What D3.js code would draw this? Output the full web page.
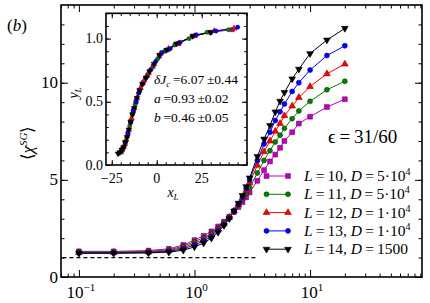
<!DOCTYPE html>
<html><head><meta charset="utf-8">
<script src="https://cdn.jsdelivr.net/npm/d3@7"></script>
<style>
body{margin:0;background:#fff}
svg{display:block}
</style>
</head><body>
<svg id="c" width="430" height="303"></svg>
<script>
// ---- data ----
const xValues = [0.1,0.2,0.4,0.6,0.8,1.0,1.2,1.4,1.6,1.8,2.0,2.2,2.4,2.6,2.8,3.0,3.5,4.0,4.5,5.0,5.5,6.0,7.0,8.0,10,14,20];
const chiL10 = [1.32,1.32,1.36,1.45,1.65,1.90,2.12,2.35,2.60,2.85,3.10,3.35,3.60,3.85,4.10,4.35,4.95,5.50,5.95,6.30,6.65,7.00,7.45,7.90,8.25,8.75,9.15];
const chiL11 = [1.29,1.29,1.32,1.40,1.58,1.82,2.02,2.25,2.52,2.80,3.10,3.40,3.70,4.00,4.30,4.60,5.35,6.00,6.50,6.95,7.30,7.65,8.15,8.55,9.04,9.64,10.07];
const chiL12 = [1.26,1.26,1.29,1.36,1.52,1.73,1.93,2.17,2.45,2.75,3.07,3.40,3.72,4.07,4.45,4.85,5.75,6.45,7.00,7.50,7.90,8.30,8.80,9.24,9.80,10.46,10.96];
const chiL13 = [1.24,1.24,1.26,1.32,1.45,1.65,1.85,2.08,2.38,2.70,3.03,3.40,3.75,4.12,4.55,5.00,6.00,6.85,7.45,8.05,8.50,8.90,9.55,10.00,10.65,11.40,11.90];
const chiL14 = [1.22,1.22,1.24,1.28,1.38,1.55,1.75,2.00,2.30,2.65,3.00,3.40,3.80,4.20,4.65,5.10,6.20,7.10,7.80,8.50,9.05,9.50,10.20,10.70,11.50,12.20,12.80];

const insetX10 = [-19,-17.5,-16,-14.5,-13,-11.5,-9.5,-7.5,-5,-2,1.5,6,12,20,30,42];
const insetY10 = [0.12,0.17,0.25,0.34,0.43,0.50,0.59,0.65,0.71,0.78,0.86,0.91,0.96,1.02,1.05,1.07];
const insetX11 = [-19.5,-18,-16.5,-15,-13.5,-12,-10,-8,-5.5,-3,0.5,4.5,10,18,28,40];
const insetY11 = [0.11,0.15,0.22,0.31,0.40,0.48,0.57,0.64,0.70,0.76,0.84,0.90,0.95,1.00,1.05,1.07];
const insetX12 = [-20,-18.5,-17,-15.5,-14,-12.5,-11,-9,-7,-4.5,-1.5,2,6.5,12,21,32,43];
const insetY12 = [0.10,0.14,0.20,0.28,0.37,0.45,0.53,0.61,0.67,0.73,0.80,0.88,0.92,0.96,1.02,1.06,1.08];
const insetX13 = [-20.5,-19,-17.5,-16,-14.5,-13,-11.5,-10,-8,-6,-3.5,-0.5,3,7.5,13,22,33,45];
const insetY13 = [0.10,0.13,0.18,0.25,0.34,0.43,0.50,0.57,0.64,0.69,0.75,0.82,0.89,0.92,0.97,1.03,1.06,1.09];
const insetX14 = [-21.5,-20.5,-19.5,-18.5,-17.5,-16.5,-15.5,-14.5,-13.5,-12.5,-11,-9.5,-8,-6,-4,-1.5,1.5,5.5,11,20,30];
const insetY14 = [0.09,0.10,0.12,0.14,0.18,0.22,0.28,0.34,0.40,0.45,0.53,0.59,0.64,0.69,0.74,0.80,0.87,0.91,0.96,1.02,1.05];

const seriesL = ["10","11","12","13","14"];
const seriesD = ["5·10","5·10","1·10","1·10","1500"];
const seriesDsup = ["4","4","4","4",""];
const seriesColor = ["#c000c0","#008000","#ff0000","#0000ff","#000000"];
const seriesEdge = ["#700070","#004000","#900000","#000090","#000000"];
const seriesMarker = ["square","circle","triangleUp","circle","triangleDown"];

const mainXTicks = [0.1,1,10];
const mainXTickExp = ["−1","0","1"];
const mainYTicks = [0,5,10];
const insetXTicks = [-25,0,25];
const insetYTicks = [0,0.5,1.0];
const fitText = [["δ","J","c","\u2009=6.07\u2009±0.44"],["","a","","\u2009=0.93\u2009±0.02"],["","b","","\u2009=0.46\u2009±0.05"]];

// ---- drawing ----
const FONT = "Liberation Serif";
const svg = d3.select("#c");
const chiAll = [chiL10,chiL11,chiL12,chiL13,chiL14];
const insXAll = [insetX10,insetX11,insetX12,insetX13,insetX14];
const insYAll = [insetY10,insetY11,insetY12,insetY13,insetY14];

const x = d3.scaleLog().domain([0.07,93]).range([61,422]);
const y = d3.scaleLinear().domain([0,14]).range([277,5]);

function sym(type, size){
  if(type==="square") return d3.symbol().type(d3.symbolSquare).size(size)();
  if(type==="circle") return d3.symbol().type(d3.symbolCircle).size(size*0.85)();
  return d3.symbol().type(d3.symbolTriangle).size(size*0.85)();
}
function rot(type){ return type==="triangleDown" ? " rotate(180)" : ""; }
function txt(sel){ return sel.append("text").attr("font-family",FONT).attr("fill","#000"); }

// dashed y=1 line
svg.append("line").attr("x1",x(0.072)).attr("x2",x(3.5)).attr("y1",y(1)).attr("y2",y(1))
  .attr("stroke","#000").attr("stroke-width",1.2).attr("stroke-dasharray","4,3");

// main series
const line = d3.line().x((d,i)=>x(xValues[i])).y(d=>y(d));
chiAll.forEach((arr,k)=>{
  svg.append("path").attr("d",line(arr)).attr("fill","none").attr("stroke",seriesColor[k]).attr("stroke-width",1);
});
const MS = 23;
chiAll.forEach((arr,k)=>{
  svg.append("g").selectAll("path").data(arr).join("path")
    .attr("d",sym(seriesMarker[k],MS))
    .attr("transform",(d,i)=>`translate(${x(xValues[i])},${y(d)})${rot(seriesMarker[k])}`)
    .attr("fill",seriesColor[k]).attr("stroke",seriesEdge[k]).attr("stroke-width",0.6);
});

// main axes ticks
function minorLog(){
  const out=[];
  for(let e=-2;e<=2;e++) for(let m=2;m<=9;m++){const v=m*Math.pow(10,e); if(v>=0.07&&v<=93) out.push(v);}
  return out;
}
const axG = svg.append("g");
axG.append("g").attr("transform","translate(0,277)").call(d3.axisBottom(x).tickValues(mainXTicks).tickSize(-7).tickFormat(""));
axG.append("g").attr("transform","translate(0,277)").call(d3.axisBottom(x).tickValues(minorLog()).tickSize(-3.5).tickFormat(""));
axG.append("g").attr("transform","translate(0,5)").call(d3.axisTop(x).tickValues(mainXTicks).tickSize(-7).tickFormat(""));
axG.append("g").attr("transform","translate(0,5)").call(d3.axisTop(x).tickValues(minorLog()).tickSize(-3.5).tickFormat(""));
axG.append("g").attr("transform","translate(61,0)").call(d3.axisLeft(y).tickValues(mainYTicks).tickSize(-7).tickFormat(""));
axG.append("g").attr("transform","translate(61,0)").call(d3.axisLeft(y).tickValues(d3.range(1,14)).tickSize(-3.5).tickFormat(""));
axG.append("g").attr("transform","translate(422,0)").call(d3.axisRight(y).tickValues(mainYTicks).tickSize(-7).tickFormat(""));
axG.append("g").attr("transform","translate(422,0)").call(d3.axisRight(y).tickValues(d3.range(1,14)).tickSize(-3.5).tickFormat(""));
axG.selectAll(".domain").remove();
axG.selectAll("line").attr("stroke","#000").attr("stroke-width",1);
svg.append("rect").attr("x",61).attr("y",5).attr("width",361).attr("height",272)
  .attr("fill","none").attr("stroke","#000").attr("stroke-width",1.6);

// main tick labels
mainXTicks.forEach((v,i)=>{
  const t = txt(svg).attr("x",x(v)+2).attr("y",298).attr("text-anchor","middle").attr("font-size",17);
  t.append("tspan").text("10");
  t.append("tspan").attr("dy",-7).attr("font-size",11).text(mainXTickExp[i]);
});
mainYTicks.forEach(v=>{
  txt(svg).attr("x",58).attr("y",y(v)+5.5).attr("text-anchor","end").attr("font-size",17).text(v);
});

// y label
const yl = txt(svg).attr("transform","translate(33,143) rotate(-90)").attr("text-anchor","middle").attr("font-size",17);
yl.append("tspan").text("⟨");
yl.append("tspan").attr("font-style","italic").text("χ");
yl.append("tspan").attr("dy",-6).attr("font-size",11).attr("font-style","italic").text("SG");
yl.append("tspan").attr("dy",6).text("⟩");

// (b)
const bl = txt(svg).attr("x",7).attr("y",31).attr("font-size",17);
bl.append("tspan").text("(");
bl.append("tspan").attr("font-style","italic").text("b");
bl.append("tspan").text(")");

// epsilon
const ep = txt(svg).attr("x",328).attr("y",143).attr("font-size",19);
ep.append("tspan").text("ϵ");
ep.append("tspan").text("\u2009=\u200931/60");

// legend
const legY0 = 176, legDy = 18.3;
seriesL.forEach((L,k)=>{
  const yy = legY0 + k*legDy;
  svg.append("line").attr("x1",266.5).attr("x2",288).attr("y1",yy).attr("y2",yy).attr("stroke",seriesColor[k]).attr("stroke-width",1);
  [266.5,288].forEach(xx=>{
    svg.append("path").attr("d",sym(seriesMarker[k],MS))
      .attr("transform",`translate(${xx},${yy})${rot(seriesMarker[k])}`)
      .attr("fill",seriesColor[k]).attr("stroke",seriesEdge[k]).attr("stroke-width",0.6);
  });
  const t = txt(svg).attr("x",304).attr("y",yy+5).attr("font-size",15.5);
  t.append("tspan").attr("font-style","italic").text("L");
  t.append("tspan").text("\u2009=\u2009" + L + ", ");
  t.append("tspan").attr("font-style","italic").text("D");
  t.append("tspan").text("\u2009=\u2009" + seriesD[k]);
  if(seriesDsup[k]) t.append("tspan").attr("dy",-6).attr("font-size",10).text(seriesDsup[k]);
});

// ---- inset ----
const xi = d3.scaleLinear().domain([-28.2,50.2]).range([106,247]);
const yi = d3.scaleLinear().domain([0,1.2]).range([165,13.3]);
svg.append("rect").attr("x",106).attr("y",13.3).attr("width",141).attr("height",151.7).attr("fill","#fff");
insXAll.forEach((xs,k)=>{
  const l = d3.line().x(d=>xi(d)).y((d,i)=>yi(insYAll[k][i]));
  svg.append("path").attr("d",l(xs)).attr("fill","none").attr("stroke",seriesColor[k]).attr("stroke-width",1);
});
insXAll.forEach((xs,k)=>{
  svg.append("g").selectAll("path").data(xs).join("path")
    .attr("d",sym(seriesMarker[k],16))
    .attr("transform",(d,i)=>`translate(${xi(d)},${yi(insYAll[k][i])})${rot(seriesMarker[k])}`)
    .attr("fill",seriesColor[k]).attr("stroke",seriesEdge[k]).attr("stroke-width",0.6);
});
const iax = svg.append("g");
const insXMinor = d3.range(-25,51,5);
const insYMinor = d3.range(0,1.21,0.1);
iax.append("g").attr("transform","translate(0,165)").call(d3.axisBottom(xi).tickValues(insetXTicks).tickSize(-5).tickFormat(""));
iax.append("g").attr("transform","translate(0,165)").call(d3.axisBottom(xi).tickValues(insXMinor).tickSize(-2.8).tickFormat(""));
iax.append("g").attr("transform","translate(0,13.3)").call(d3.axisTop(xi).tickValues(insetXTicks).tickSize(-5).tickFormat(""));
iax.append("g").attr("transform","translate(0,13.3)").call(d3.axisTop(xi).tickValues(insXMinor).tickSize(-2.8).tickFormat(""));
iax.append("g").attr("transform","translate(106,0)").call(d3.axisLeft(yi).tickValues(insetYTicks).tickSize(-5).tickFormat(""));
iax.append("g").attr("transform","translate(106,0)").call(d3.axisLeft(yi).tickValues(insYMinor).tickSize(-2.8).tickFormat(""));
iax.append("g").attr("transform","translate(247,0)").call(d3.axisRight(yi).tickValues(insetYTicks).tickSize(-5).tickFormat(""));
iax.append("g").attr("transform","translate(247,0)").call(d3.axisRight(yi).tickValues(insYMinor).tickSize(-2.8).tickFormat(""));
iax.selectAll(".domain").remove();
iax.selectAll("line").attr("stroke","#000").attr("stroke-width",1);
svg.append("rect").attr("x",106).attr("y",13.3).attr("width",141).attr("height",151.7)
  .attr("fill","none").attr("stroke","#000").attr("stroke-width",1.6);

insetXTicks.forEach(v=>{
  txt(svg).attr("x",xi(v)).attr("y",183).attr("text-anchor","middle").attr("font-size",14)
    .text(v<0 ? "−"+Math.abs(v) : v);
});
insetYTicks.forEach(v=>{
  txt(svg).attr("x",103).attr("y",yi(v)+4.5).attr("text-anchor","end").attr("font-size",14).text(v.toFixed(1));
});
const xl = txt(svg).attr("x",173).attr("y",197).attr("text-anchor","middle").attr("font-size",14);
xl.append("tspan").attr("font-style","italic").text("x");
xl.append("tspan").attr("dy",3).attr("font-size",9).attr("font-style","italic").text("L");
const ylI = txt(svg).attr("transform","translate(78,93) rotate(-90)").attr("text-anchor","middle").attr("font-size",14);
ylI.append("tspan").attr("font-style","italic").text("y");
ylI.append("tspan").attr("dy",3).attr("font-size",9).attr("font-style","italic").text("L");

fitText.forEach((f,i)=>{
  const t = txt(svg).attr("x",154).attr("y",84+i*19).attr("font-size",13.5);
  if(f[0]) t.append("tspan").attr("font-style","italic").text(f[0]);
  t.append("tspan").attr("font-style","italic").text(f[1]);
  if(f[2]){ t.append("tspan").attr("dy",3).attr("font-size",9).attr("font-style","italic").text(f[2]); t.append("tspan").attr("dy",-3).text(f[3]); }
  else t.append("tspan").text(f[3]);
});
</script>
</body></html>
